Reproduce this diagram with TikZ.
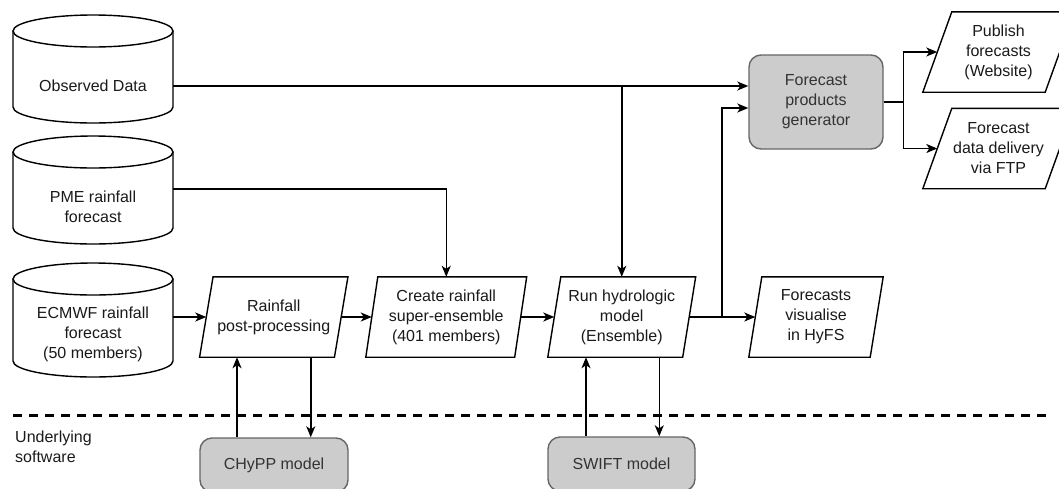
\documentclass[tikz,border=0pt]{standalone}
\usepackage{fontspec}
\setmainfont{Liberation Sans}
\usetikzlibrary{arrows.meta,calc}
\definecolor{txt}{HTML}{1A1A1A}
\definecolor{gtxt}{HTML}{333333}
\definecolor{gfill}{HTML}{CCCCCC}
\definecolor{gline}{HTML}{666666}
\tikzset{
  shapeline/.style={draw=black, line width=1.4pt, line join=miter},
  plainbox/.style={inner sep=0pt, minimum height=80pt, align=center, text=txt,
    font=\fontsize{16}{20}\selectfont},
  txtnode/.style={inner sep=0pt, align=center, text=txt, font=\fontsize{16}{20}\selectfont},
  graybox/.style={draw=gline, fill=gfill, line width=1.4pt, rounded corners=12pt, align=center,
    text=gtxt, font=\fontsize{16}{20}\selectfont, inner sep=0pt},
  arr/.style={draw=black, line width=1.5pt, -{Stealth[length=11pt,width=9pt,inset=3pt]}},
  sep/.style={draw=black, line width=3pt, dash pattern=on 9pt off 7pt}
}
\newcommand{\paragm}[6]{%
  \node[plainbox, minimum width=#4pt] (#1) at (#2,#3) {#6};
  \draw[shapeline, fill=white] ([xshift=#5pt]#1.north west) -- ([xshift=#5pt]#1.north east)
     -- ([xshift=-#5pt]#1.south east) -- ([xshift=-#5pt]#1.south west) -- cycle;
  \node[plainbox, minimum width=#4pt] at (#1.center) {#6};}
\newcommand{\cylshape}[2]{% top-ellipse centre y, bottom-arc centre y
  \draw[shapeline, fill=white] (13,#1) -- (13,#2) arc[start angle=180, end angle=360, x radius=80pt, y radius=16pt] -- (173,#1);
  \draw[shapeline, fill=white] (93,#1) ellipse[x radius=80pt, y radius=16pt];}
\begin{document}
\begin{tikzpicture}[x=1pt, y=-1pt]
\path[use as bounding box, clip] (0,0) rectangle (1059,488);

% cylinders
\cylshape{31}{107}
\node[txtnode] (obs) at (93,86) {Observed Data};
\coordinate (obsR) at (173,86);
\cylshape{152}{228}
\node[txtnode] (pme) at (93,207) {PME rainfall\\forecast};
\coordinate (pmeR) at (173,189);
\cylshape{279}{361}
\node[txtnode] (ecm) at (93,334) {ECMWF rainfall\\forecast\\(50 members)};
\coordinate (ecmR) at (173,317);

% process parallelograms
\paragm{rpp}{273.75}{317}{134.5}{6.75}{Rainfall\\post-processing}
\paragm{cre}{446.25}{317}{148.5}{6}{Create rainfall\\super-ensemble\\(401 members)}
\paragm{run}{621.75}{317}{134.5}{6.5}{Run hydrologic\\model\\(Ensemble)}
\paragm{vis}{816}{317}{121}{6.5}{Forecasts\\visualise\\in HyFS}
\paragm{pub}{998.5}{52}{122}{14.5}{Publish\\forecasts\\(Website)}
\paragm{ftp}{998.5}{148.5}{122}{14.5}{Forecast\\data delivery\\via FTP}

% gray boxes
\node[graybox, minimum width=134pt, minimum height=94pt] (gen) at (816,102) {Forecast\\products\\generator};
\node[graybox, minimum width=148pt, minimum height=54pt] (chy) at (274,465) {CHyPP model};
\node[graybox, minimum width=147pt, minimum height=54pt] (swf) at (621.5,464) {SWIFT model};

% separator
\coordinate (sepL) at (13,415);
\coordinate (sepR) at (1049,415);
\draw[sep] (sepL) -- (sepR);
\node[txtnode, align=left, anchor=west] (und) at (15,447) {Underlying\\software};

% connectors
\draw[arr] (obsR) -- (gen.west |- obsR);
\draw[arr] (run.north |- obsR) -- (run.north);
\draw[arr] (pmeR) -| (cre.north);
\draw[arr] (ecmR) -- (rpp.west);
\draw[arr] (rpp.east) -- (cre.west);
\draw[arr] (cre.east) -- (run.west);
\draw[arr] (run.east) -- (vis.west);
\coordinate (jn) at (722,317);
\draw[arr] (jn) |- ([yshift=-6pt]gen.west);
\draw[arr] (gen.east) -- ++(20,0) |- (pub.west);
\draw[arr] (gen.east) -- ++(20,0) |- (ftp.west);
\draw[arr] (chy.north) ++(-37,0) coordinate (cu) -- (cu |- rpp.south);
\draw[arr] (rpp.south) ++(37,0) coordinate (cd) -- (cd |- chy.north);
\draw[arr] (swf.north) ++(-35.5,0) coordinate (su) -- (su |- run.south);
\draw[arr] (run.south) ++(37.5,0) coordinate (sd) -- (sd |- swf.north);
\end{tikzpicture}
\end{document}
